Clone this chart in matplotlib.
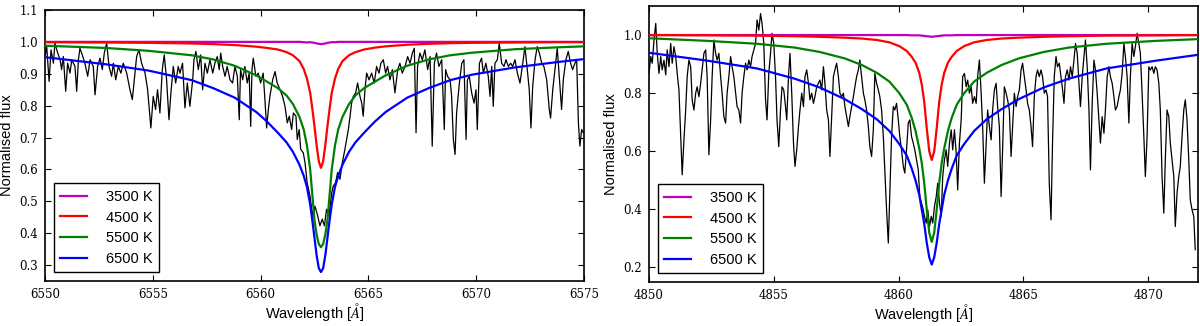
import numpy as np
import matplotlib
matplotlib.use("Agg")
import matplotlib.pyplot as plt

plt.rcParams['mathtext.fontset'] = 'cm'

# ---------------- H-alpha panel (left) ----------------
ha_wave = [
 6550.00, 6550.08, 6550.19, 6550.28, 6550.39, 6550.46, 6550.59, 6550.70, 6550.77, 6550.85,
 6550.96, 6551.05, 6551.16, 6551.24, 6551.39, 6551.47, 6551.55, 6551.62, 6551.73, 6551.85,
 6551.98, 6552.09, 6552.24, 6552.32, 6552.44, 6552.55, 6552.66, 6552.75, 6552.86, 6552.97,
 6553.09, 6553.17, 6553.28, 6553.40, 6553.52, 6553.63, 6553.79, 6553.94, 6554.05, 6554.14,
 6554.25, 6554.36, 6554.48, 6554.64, 6554.76, 6554.91, 6555.02, 6555.13, 6555.22, 6555.33,
 6555.44, 6555.53, 6555.64, 6555.75, 6555.84, 6555.95, 6556.06, 6556.18,
 6556.26, 6556.38, 6556.49, 6556.60, 6556.72, 6556.85, 6556.91, 6557.00, 6557.11, 6557.22,
 6557.31, 6557.42, 6557.53, 6557.65, 6557.78, 6557.88, 6557.99, 6558.08, 6558.15, 6558.24,
 6558.35, 6558.45, 6558.58, 6558.70, 6558.81, 6558.92, 6559.01, 6559.07, 6559.17, 6559.27,
 6559.38, 6559.47, 6559.54, 6559.60, 6559.66, 6559.78, 6559.89, 6560.00, 6560.12, 6560.20,
 6560.28, 6560.36, 6560.43, 6560.56, 6560.67, 6560.77, 6560.90, 6561.02, 6561.13, 6561.24,
 6561.33, 6561.44, 6561.52, 6561.64, 6561.70, 6561.79, 6561.86, 6561.98, 6562.06, 6562.16,
 6562.29, 6562.37, 6562.44,
 6562.52, 6562.65, 6562.75, 6562.86, 6562.96, 6563.06, 6563.17, 6563.30, 6563.37, 6563.48,
 6563.57, 6563.68, 6563.79, 6563.91, 6563.99, 6564.07, 6564.15, 6564.22, 6564.30, 6564.41,
 6564.50, 6564.61, 6564.69, 6564.76, 6564.84, 6564.92, 6565.03, 6565.15, 6565.27, 6565.38,
 6565.49, 6565.58, 6565.69, 6565.80, 6565.89, 6566.00, 6566.11, 6566.23, 6566.36, 6566.46,
 6566.57, 6566.70, 6566.82, 6566.93, 6567.04, 6567.13, 6567.21, 6567.28, 6567.39, 6567.50,
 6567.62, 6567.75, 6567.86, 6567.96, 6568.06, 6568.16, 6568.27, 6568.40, 6568.52, 6568.58,
 6568.67,
 6568.79, 6568.86, 6568.94, 6569.02, 6569.09, 6569.22, 6569.33, 6569.43, 6569.53, 6569.59,
 6569.68, 6569.79, 6569.90, 6569.99, 6570.05, 6570.15, 6570.25, 6570.33, 6570.45, 6570.56,
 6570.64, 6570.72, 6570.79, 6570.87, 6570.98, 6571.07, 6571.18, 6571.29, 6571.38, 6571.49,
 6571.60, 6571.69, 6571.80, 6571.91, 6572.03, 6572.16, 6572.26, 6572.37, 6572.46, 6572.54,
 6572.62, 6572.73, 6572.83, 6572.93, 6573.04, 6573.14, 6573.27, 6573.39, 6573.45, 6573.55,
 6573.65, 6573.76, 6573.85, 6573.96, 6574.04, 6574.16, 6574.27, 6574.38, 6574.47, 6574.58,
 6574.66, 6574.74, 6574.81, 6574.89, 6574.97]
ha_obs = [
 0.954, 0.985, 0.876, 0.975, 0.933, 0.996, 0.965, 0.944, 0.913, 0.954,
 0.845, 0.933, 0.902, 0.944, 0.923, 0.845, 0.944, 0.980, 0.959, 0.933,
 0.892, 0.944, 0.923, 0.834, 0.923, 0.949, 0.913, 0.965, 0.996, 0.923,
 0.892, 0.933, 0.881, 0.923, 0.902, 0.933, 0.902, 0.850, 0.819, 0.881,
 0.954, 0.975, 0.933, 0.902, 0.850, 0.730, 0.829, 0.788, 0.850, 0.777,
 0.913, 0.959, 0.881, 0.756, 0.840, 0.923, 0.871, 0.923,
 0.902, 0.933, 0.793, 0.871, 0.798, 0.881, 0.944, 0.970, 0.913, 0.959,
 0.850, 0.933, 0.902, 0.944, 0.902, 0.933, 0.954, 0.913, 0.965, 0.923,
 0.892, 0.923, 0.881, 0.871, 0.923, 0.892, 0.756, 0.913, 0.881, 0.923,
 0.871, 0.902, 0.735, 0.913, 0.949, 0.892, 0.902, 0.871, 0.902, 0.819,
 0.730, 0.788, 0.829, 0.881, 0.907, 0.871, 0.850, 0.829, 0.798, 0.746,
 0.767, 0.725, 0.777, 0.767, 0.694, 0.725, 0.663, 0.652, 0.621, 0.558,
 0.517, 0.475, 0.454,
 0.485, 0.454, 0.423, 0.444, 0.423, 0.475, 0.454, 0.527, 0.548, 0.558,
 0.590, 0.569, 0.621, 0.663, 0.694, 0.725, 0.767, 0.808, 0.829, 0.840,
 0.871, 0.829, 0.808, 0.767, 0.850, 0.902, 0.881, 0.902, 0.871, 0.923,
 0.902, 0.933, 0.944, 0.902, 0.923, 0.881, 0.913, 0.840, 0.913, 0.933,
 0.902, 0.923, 0.954, 0.933, 0.965, 0.980, 0.715, 0.923, 0.965, 0.944,
 0.975, 0.913, 0.954, 0.673, 0.933, 0.965, 0.923, 0.944, 0.725, 0.913,
 0.892,
 0.881, 0.829, 0.694, 0.647, 0.777, 0.871, 0.933, 0.944, 0.694, 0.881,
 0.892, 0.840, 0.808, 0.850, 0.725, 0.933, 0.949, 0.902, 0.933, 0.892,
 0.829, 0.923, 0.798, 0.933, 0.944, 0.996, 0.933, 0.923, 0.944, 0.923,
 0.933, 0.923, 0.944, 0.902, 0.871, 0.933, 0.985, 0.913, 0.850, 0.730,
 0.860, 0.944, 0.985, 0.965, 0.933, 0.923, 0.881, 0.788, 0.761, 0.850,
 0.913, 0.980, 0.892, 0.788, 0.881, 0.944, 0.970, 0.933, 0.913, 0.933,
 0.944, 0.746, 0.673, 0.725, 0.715]

ha_model_wave = [
 6550.0, 6552.8, 6554.8, 6556.8, 6557.8, 6558.8, 6559.8, 6560.3, 6560.8, 6561.2,
 6561.5, 6561.8, 6562.0, 6562.15, 6562.3, 6562.4, 6562.5, 6562.6, 6562.7, 6562.8,
 6562.9, 6563.0, 6563.1, 6563.2, 6563.3, 6563.45, 6563.6, 6563.8, 6564.1, 6564.4,
 6564.8, 6565.3, 6565.8, 6566.8, 6567.8, 6568.8, 6569.8, 6571.8, 6573.8, 6575.0]
ha_3500 = [
 1.000, 1.000, 1.000, 1.000, 1.000, 1.000, 1.000, 1.000, 1.000, 1.000,
 1.000, 1.000, 0.999, 0.998, 0.999, 0.998, 0.997, 0.995, 0.994, 0.993,
 0.994, 0.995, 0.997, 0.998, 0.999, 0.999, 1.000, 1.000, 1.000, 1.000,
 1.000, 1.000, 1.000, 1.000, 1.000, 1.000, 1.000, 1.000, 1.000, 1.000]
ha_4500 = [
 0.999, 0.998, 0.997, 0.995, 0.993, 0.990, 0.985, 0.981, 0.976, 0.968,
 0.958, 0.940, 0.915, 0.885, 0.840, 0.790, 0.735, 0.675, 0.625, 0.605,
 0.625, 0.675, 0.735, 0.790, 0.840, 0.885, 0.915, 0.940, 0.958, 0.968,
 0.976, 0.982, 0.986, 0.991, 0.994, 0.996, 0.997, 0.998, 0.999, 0.999]
ha_5500 = [
 0.988, 0.981, 0.972, 0.958, 0.945, 0.925, 0.895, 0.875, 0.855, 0.832,
 0.805, 0.765, 0.725, 0.675, 0.600, 0.520, 0.440, 0.395, 0.366, 0.356,
 0.366, 0.395, 0.440, 0.520, 0.600, 0.675, 0.725, 0.765, 0.805, 0.832,
 0.855, 0.875, 0.895, 0.925, 0.945, 0.958, 0.966, 0.977, 0.983, 0.986]
ha_6500 = [
 0.952, 0.930, 0.910, 0.880, 0.855, 0.825, 0.780, 0.750, 0.715, 0.685,
 0.655, 0.615, 0.580, 0.545, 0.490, 0.440, 0.385, 0.330, 0.290, 0.278,
 0.290, 0.330, 0.385, 0.440, 0.490, 0.545, 0.580, 0.615, 0.655, 0.685,
 0.715, 0.750, 0.780, 0.825, 0.855, 0.880, 0.897, 0.920, 0.937, 0.946]

# ---------------- H-beta panel (right) ----------------
hb_wave = [
 4850.00, 4850.07, 4850.13, 4850.20, 4850.27, 4850.33, 4850.40, 4850.47, 4850.53, 4850.60, 4850.67, 4850.73, 4850.80, 4850.87, 4850.93,
 4851.00, 4851.07, 4851.13, 4851.20, 4851.27, 4851.33, 4851.40, 4851.47, 4851.53, 4851.60, 4851.67, 4851.73, 4851.80, 4851.87, 4851.93,
 4852.00, 4852.07, 4852.13, 4852.20, 4852.27, 4852.33, 4852.40, 4852.47, 4852.53, 4852.60, 4852.67, 4852.73, 4852.80, 4852.87, 4852.93,
 4853.00, 4853.07, 4853.13, 4853.20, 4853.27, 4853.33, 4853.40, 4853.47, 4853.53, 4853.60, 4853.67, 4853.73, 4853.80, 4853.87, 4853.93,
 4854.00, 4854.07, 4854.13, 4854.20, 4854.27, 4854.33, 4854.40, 4854.47, 4854.53, 4854.60, 4854.67, 4854.73, 4854.80, 4854.87, 4854.93,
 4855.00, 4855.07, 4855.13, 4855.20, 4855.27, 4855.33, 4855.40, 4855.47,
 4855.52, 4855.59, 4855.65, 4855.72, 4855.79, 4855.85, 4855.92, 4855.99, 4856.05, 4856.12, 4856.19, 4856.25, 4856.32, 4856.39, 4856.45,
 4856.52, 4856.59, 4856.65, 4856.72, 4856.79, 4856.85, 4856.92, 4856.99, 4857.05, 4857.12, 4857.19, 4857.25, 4857.32, 4857.39, 4857.45,
 4857.52, 4857.59, 4857.65, 4857.72, 4857.79, 4857.85, 4857.92, 4857.99, 4858.05, 4858.12, 4858.19, 4858.25, 4858.32, 4858.39, 4858.45,
 4858.52, 4858.59, 4858.65, 4858.72, 4858.79, 4858.85, 4858.92, 4858.99, 4859.05, 4859.12, 4859.19, 4859.25, 4859.32, 4859.39, 4859.45,
 4859.52, 4859.59, 4859.65, 4859.72, 4859.79, 4859.85, 4859.92, 4859.99, 4860.05, 4860.12, 4860.19, 4860.25, 4860.32, 4860.39, 4860.45,
 4860.52, 4860.59, 4860.65, 4860.72, 4860.79, 4860.85, 4860.92, 4860.99,
 4861.04, 4861.11, 4861.17, 4861.24, 4861.31, 4861.37, 4861.44, 4861.51, 4861.57, 4861.64, 4861.71, 4861.77, 4861.84, 4861.91, 4861.97,
 4862.04, 4862.11, 4862.17, 4862.24, 4862.31, 4862.37, 4862.44, 4862.51, 4862.57, 4862.64, 4862.71, 4862.77, 4862.84, 4862.91, 4862.97,
 4863.04, 4863.11, 4863.17, 4863.24, 4863.31, 4863.37, 4863.44, 4863.51, 4863.57, 4863.64, 4863.71, 4863.77, 4863.84, 4863.91, 4863.97,
 4864.04, 4864.11, 4864.17, 4864.24, 4864.31, 4864.37, 4864.44, 4864.51, 4864.57, 4864.64, 4864.71, 4864.77, 4864.84, 4864.91, 4864.97,
 4865.04, 4865.11, 4865.17, 4865.24, 4865.31, 4865.37, 4865.44, 4865.51, 4865.57, 4865.64, 4865.71, 4865.77, 4865.84, 4865.91, 4865.97,
 4866.04, 4866.11, 4866.17, 4866.24, 4866.31, 4866.37, 4866.44, 4866.51,
 4866.56, 4866.63, 4866.69, 4866.76, 4866.83, 4866.89, 4866.96, 4867.03, 4867.09, 4867.16, 4867.23, 4867.29, 4867.36, 4867.43, 4867.49,
 4867.56, 4867.63, 4867.69, 4867.76, 4867.83, 4867.89, 4867.96, 4868.03, 4868.09, 4868.16, 4868.23, 4868.29, 4868.36, 4868.43, 4868.49,
 4868.56, 4868.63, 4868.69, 4868.76, 4868.83, 4868.89, 4868.96, 4869.03, 4869.09, 4869.16, 4869.23, 4869.29, 4869.36, 4869.43, 4869.49,
 4869.56, 4869.63, 4869.69, 4869.76, 4869.83, 4869.89, 4869.96, 4870.03, 4870.09, 4870.16, 4870.23, 4870.29, 4870.36, 4870.43, 4870.49,
 4870.56, 4870.63, 4870.69, 4870.76, 4870.83, 4870.89, 4870.96, 4871.03, 4871.09, 4871.16, 4871.23, 4871.29, 4871.36, 4871.43, 4871.49,
 4871.56, 4871.63, 4871.69, 4871.76, 4871.83, 4871.89]
hb_obs = [
 0.868, 0.926, 0.903, 0.983, 1.040, 0.937, 0.868, 0.926, 0.880, 0.914, 0.863, 0.949, 0.891, 0.971, 0.903,
 0.960, 0.926, 0.868, 0.811, 0.651, 0.519, 0.639, 0.742, 0.857, 0.914, 0.891, 0.777, 0.742, 0.800, 0.822,
 0.788, 0.834, 0.880, 0.937, 0.949, 0.857, 0.588, 0.708, 0.857, 0.983, 0.937, 0.914, 0.937, 0.857, 0.800,
 0.719, 0.697, 0.800, 0.857, 0.926, 0.891, 0.857, 0.800, 0.754, 0.742, 0.697, 0.800, 0.857, 0.903, 0.880,
 0.914, 0.891, 0.926, 0.949, 0.971, 1.052, 1.017, 1.074, 1.040, 0.971, 0.777, 0.708, 0.868, 0.937, 1.006,
 0.971, 0.857, 0.708, 0.616, 0.742, 0.822, 0.811, 0.754,
 0.708, 0.857, 0.937, 0.800, 0.628, 0.548, 0.605, 0.685, 0.742, 0.800, 0.754, 0.857, 0.880, 0.834, 0.777,
 0.800, 0.765, 0.788, 0.822, 0.834, 0.845, 0.811, 0.891, 0.834, 0.742, 0.708, 0.582, 0.719, 0.857, 0.880,
 0.903, 0.857, 0.800, 0.788, 0.800, 0.754, 0.719, 0.685, 0.719, 0.754, 0.788, 0.822, 0.857, 0.880, 0.914,
 0.857, 0.800, 0.777, 0.742, 0.685, 0.616, 0.582, 0.674, 0.868, 0.834, 0.811, 0.788, 0.742, 0.651, 0.536,
 0.399, 0.284, 0.456, 0.651, 0.754, 0.742, 0.765, 0.708, 0.651, 0.605, 0.548, 0.525, 0.605, 0.697, 0.708,
 0.651, 0.628, 0.605, 0.571, 0.536, 0.445, 0.422, 0.399,
 0.376, 0.353, 0.399, 0.341, 0.376, 0.353, 0.410, 0.444, 0.490, 0.422, 0.376, 0.513, 0.571, 0.605, 0.548,
 0.628, 0.674, 0.605, 0.674, 0.593, 0.467, 0.628, 0.708, 0.857, 0.868, 0.822, 0.845, 0.800, 0.822, 0.765,
 0.788, 0.765, 0.857, 0.914, 0.800, 0.685, 0.490, 0.628, 0.742, 0.685, 0.639, 0.742, 0.811, 0.834, 0.754,
 0.685, 0.444, 0.605, 0.822, 0.800, 0.777, 0.742, 0.582, 0.685, 0.800, 0.754, 0.788, 0.811, 0.880, 0.903,
 0.857, 0.811, 0.765, 0.742, 0.685, 0.616, 0.788, 0.857, 0.880, 0.857, 0.880, 0.857, 0.800, 0.811, 0.788,
 0.490, 0.364, 0.628, 0.857, 0.926, 0.891, 0.903, 0.857,
 0.822, 0.765, 0.857, 0.880, 0.845, 0.891, 0.857, 0.914, 0.971, 0.937, 0.834, 0.754, 0.857, 0.926, 0.983,
 0.891, 0.742, 0.536, 0.765, 0.914, 0.880, 0.800, 0.708, 0.628, 0.719, 0.662, 0.742, 0.857, 0.891, 0.857,
 0.834, 0.788, 0.742, 0.754, 0.788, 0.811, 0.868, 0.971, 0.926, 0.857, 0.697, 0.857, 0.971, 0.926, 0.960,
 1.006, 0.971, 0.937, 0.800, 0.651, 0.513, 0.651, 0.891, 0.880, 0.891, 0.868, 0.891, 0.880, 0.834, 0.742,
 0.513, 0.387, 0.571, 0.742, 0.719, 0.628, 0.571, 0.513, 0.341, 0.456, 0.513, 0.548, 0.651, 0.742, 0.777,
 0.708, 0.571, 0.433, 0.399, 0.376, 0.261]

hb_model_wave = [
 4850.00, 4852.33, 4854.33, 4855.83, 4856.83, 4857.83, 4858.53, 4859.13, 4859.63, 4860.03,
 4860.33, 4860.53, 4860.68, 4860.83, 4860.93, 4861.03, 4861.13, 4861.23, 4861.33, 4861.43,
 4861.53, 4861.63, 4861.73, 4861.83, 4861.98, 4862.13, 4862.33, 4862.63, 4863.03, 4863.53,
 4864.13, 4864.83, 4865.83, 4866.83, 4868.33, 4870.33, 4872.00]
hb_3500 = [
 1.000, 1.000, 1.000, 1.000, 1.000, 1.000, 1.000, 1.000, 1.000, 1.000,
 1.000, 0.999, 0.999, 0.999, 0.998, 0.997, 0.996, 0.995, 0.994, 0.995,
 0.996, 0.997, 0.998, 0.999, 0.999, 0.999, 1.000, 1.000, 1.000, 1.000,
 1.000, 1.000, 1.000, 1.000, 1.000, 1.000, 1.000]
hb_4500 = [
 1.000, 0.999, 0.998, 0.996, 0.994, 0.991, 0.988, 0.983, 0.975, 0.962,
 0.945, 0.925, 0.905, 0.870, 0.830, 0.770, 0.680, 0.600, 0.570, 0.600,
 0.680, 0.770, 0.830, 0.870, 0.905, 0.925, 0.945, 0.962, 0.975, 0.983,
 0.988, 0.991, 0.994, 0.996, 0.998, 0.999, 1.000]
hb_5500 = [
 0.989, 0.980, 0.970, 0.957, 0.942, 0.920, 0.897, 0.870, 0.840, 0.800,
 0.760, 0.715, 0.670, 0.610, 0.560, 0.490, 0.400, 0.320, 0.288, 0.320,
 0.400, 0.490, 0.560, 0.610, 0.670, 0.715, 0.760, 0.800, 0.840, 0.870,
 0.897, 0.920, 0.942, 0.957, 0.970, 0.980, 0.986]
hb_6500 = [
 0.939, 0.912, 0.885, 0.850, 0.820, 0.780, 0.745, 0.710, 0.670, 0.625,
 0.585, 0.540, 0.500, 0.450, 0.400, 0.350, 0.285, 0.235, 0.210, 0.235,
 0.285, 0.350, 0.400, 0.450, 0.500, 0.540, 0.585, 0.625, 0.670, 0.710,
 0.745, 0.780, 0.820, 0.850, 0.885, 0.912, 0.932]

temps = ['3500 K', '4500 K', '5500 K', '6500 K']
colors = ['#bf00bf', '#ff0000', '#008000', '#0000ff']

ha_x_ticks = [6550, 6555, 6560, 6565, 6570, 6575]
ha_y_ticks = [0.3, 0.4, 0.5, 0.6, 0.7, 0.8, 0.9, 1.0, 1.1]
hb_x_ticks = [4850, 4855, 4860, 4865, 4870]
hb_y_ticks = [0.2, 0.4, 0.6, 0.8, 1.0]

W, H = 1200, 326
fig = plt.figure(figsize=(W / 100, H / 100), dpi=100)
ax1 = fig.add_axes([45 / W, 1 - 281 / H, (584 - 45) / W, (281 - 10) / H])
ax2 = fig.add_axes([649 / W, 1 - 282 / H, (1198 - 649) / W, (282 - 6) / H])

sans = ['Liberation Sans', 'DejaVu Sans']
serif = ['DejaVu Serif']


def panel(ax, wave, obs, mwave, models, xlim, ylim, xt, yt):
    ax.plot(wave, obs, color='black', lw=0.9, zorder=2)
    for m, c, lab in zip(models, colors, temps):
        ax.plot(mwave, m, color=c, lw=1.6, label=lab, zorder=3)
    ax.set_xlim(*xlim)
    ax.set_ylim(*ylim)
    ax.set_xticks(xt)
    ax.set_yticks(yt)
    ax.set_xticklabels([str(v) for v in xt], family=serif, fontsize=8.5)
    ax.set_yticklabels(['%.1f' % v for v in yt], family=serif, fontsize=8.5)
    ax.tick_params(direction='in', top=True, right=True, length=4, width=0.8, pad=5)
    for s in ax.spines.values():
        s.set_linewidth(1.2)
    ax.set_xlabel(r'Wavelength [$\AA$]', family=sans, fontsize=10.5, labelpad=0)
    ax.set_ylabel('Normalised flux', family=sans, fontsize=10.5, labelpad=4)
    leg = ax.legend(loc='lower left', prop={'family': sans, 'size': 10.5},
                    fancybox=False, edgecolor='black', framealpha=1,
                    handlelength=1.8, handletextpad=1.3, labelspacing=0.45,
                    borderaxespad=0.6, borderpad=0.45)
    leg.get_frame().set_linewidth(1.0)


panel(ax1, ha_wave, ha_obs, ha_model_wave, [ha_3500, ha_4500, ha_5500, ha_6500],
      (6550, 6575), (0.25, 1.1), ha_x_ticks, ha_y_ticks)
panel(ax2, hb_wave, hb_obs, hb_model_wave, [hb_3500, hb_4500, hb_5500, hb_6500],
      (4850, 4872), (0.15, 1.1), hb_x_ticks, hb_y_ticks)

fig.savefig('out.png', dpi=100)
